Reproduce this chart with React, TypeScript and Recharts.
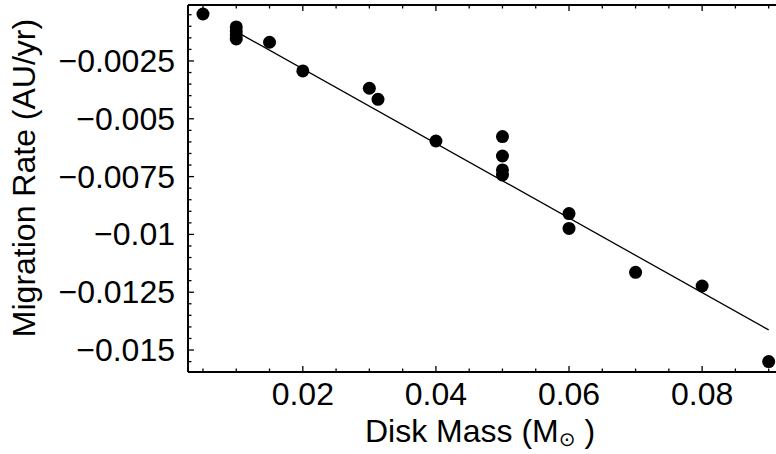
import React from 'react';
import { ScatterChart, Scatter, XAxis, YAxis } from 'recharts';

const W = 776;
const H = 454;
const FONT = '"Liberation Sans", Arial, Helvetica, sans-serif';

// disk mass (M_sun) vs migration rate (AU/yr)
const diskMass = [0.005, 0.01, 0.01, 0.01, 0.01, 0.015, 0.02, 0.03, 0.0313, 0.04, 0.05, 0.05, 0.05, 0.05, 0.06, 0.06, 0.07, 0.08, 0.09];
const migrationRate = [-0.00047, -0.00103, -0.0012, -0.00137, -0.00155, -0.00169, -0.00293, -0.00368, -0.00416, -0.00596, -0.00577, -0.00661, -0.00721, -0.00743, -0.0091, -0.00974, -0.01164, -0.01223, -0.0155];

// linear fit, end points
const fitMass = [0.01, 0.09];
const fitRate = [-0.00123, -0.01413];

const xMajor = [0.02, 0.04, 0.06, 0.08];
const xMajorLabels = ['0.02', '0.04', '0.06', '0.08'];
const xMinor = [0.005, 0.01, 0.015, 0.025, 0.03, 0.035, 0.045, 0.05, 0.055, 0.065, 0.07, 0.075, 0.085, 0.09];

const yMajor = [-0.0025, -0.005, -0.0075, -0.01, -0.0125, -0.015];
const yMajorLabels = ['\u22120.0025', '\u22120.005', '\u22120.0075', '\u22120.01', '\u22120.0125', '\u22120.015'];
const yMinor = [
  -0.0005, -0.001, -0.0015, -0.002, -0.003, -0.0035, -0.004, -0.0045,
  -0.0055, -0.006, -0.0065, -0.007, -0.008, -0.0085, -0.009, -0.0095,
  -0.0105, -0.011, -0.0115, -0.012, -0.013, -0.0135, -0.014, -0.0145, -0.0155,
];

const xDomain = [0.00275, 0.0911];
const yDomain = [-0.01595, -0.00008];

const points = diskMass.map((x, i) => ({ x, y: migrationRate[i] }));
const fitLine = fitMass.map((x, i) => ({ x, y: fitRate[i] }));

const majorIndex = (v: number, majors: number[]) => majors.findIndex((m) => Math.abs(m - v) < 1e-9);

const BottomTick = (props: any) => {
  const { x, y, payload } = props;
  const i = majorIndex(payload.value, xMajor);
  const len = i >= 0 ? 6 : 3.5;
  return (
    <g>
      <line x1={x} y1={y} x2={x} y2={y - len} stroke="#000" strokeWidth={1.3} />
      {i >= 0 && (
        <text x={x} y={y + 33} textAnchor="middle" fontSize={32} fontFamily={FONT} fill="#000">
          {xMajorLabels[i]}
        </text>
      )}
    </g>
  );
};

const TopTick = (props: any) => {
  const { x, y, payload } = props;
  const len = majorIndex(payload.value, xMajor) >= 0 ? 6 : 3.5;
  return <line x1={x} y1={y} x2={x} y2={y + len} stroke="#000" strokeWidth={1.3} />;
};

const LeftTick = (props: any) => {
  const { x, y, payload } = props;
  const i = majorIndex(payload.value, yMajor);
  const len = i >= 0 ? 6 : 3.5;
  return (
    <g>
      <line x1={x} y1={y} x2={x + len} y2={y} stroke="#000" strokeWidth={1.3} />
      {i >= 0 && (
        <text x={x - 13} y={y} textAnchor="end" dominantBaseline="central" fontSize={32} fontFamily={FONT} fill="#000">
          {yMajorLabels[i]}
        </text>
      )}
    </g>
  );
};

const Dot = (props: any) => <circle cx={props.cx} cy={props.cy} r={6.5} fill="#000" />;
const NoDot = () => <g />;

export default function App() {
  return (
    <div style={{ position: 'absolute', left: 0, top: 0, width: W, height: H, background: '#fff' }}>
      <ScatterChart width={W} height={H} margin={{ top: 0, right: 0, bottom: 0, left: 0 }}>
        <XAxis
          type="number"
          dataKey="x"
          domain={xDomain}
          allowDataOverflow
          ticks={[...xMinor, ...xMajor].sort((a, b) => a - b)}
          interval={0}
          height={82}
          tickSize={0}
          tickMargin={0}
          tickLine={false}
          tick={<BottomTick />}
          axisLine={{ stroke: '#000', strokeWidth: 2 }}
          label={{
            content: () => (
              <text x={480} y={442} textAnchor="middle" fontSize={32} fontFamily={FONT} fill="#000">
                Disk Mass (M
                <tspan dy={4} fontSize={20} fontFamily="DejaVu Sans">{'\u2299'}</tspan>
                <tspan dy={-4}> )</tspan>
              </text>
            ),
          }}
        />
        <XAxis
          xAxisId="top"
          orientation="top"
          type="number"
          dataKey="x"
          domain={xDomain}
          allowDataOverflow
          ticks={[...xMinor, ...xMajor].sort((a, b) => a - b)}
          interval={0}
          height={5}
          tickSize={0}
          tickMargin={0}
          tickLine={false}
          tick={<TopTick />}
          axisLine={{ stroke: '#000', strokeWidth: 2 }}
        />
        <YAxis
          type="number"
          dataKey="y"
          domain={yDomain}
          allowDataOverflow
          ticks={[...yMinor, ...yMajor].sort((a, b) => a - b)}
          interval={0}
          width={188}
          tickSize={0}
          tickMargin={0}
          tickLine={false}
          tick={<LeftTick />}
          axisLine={{ stroke: '#000', strokeWidth: 2 }}
          label={{
            content: () => (
              <text
                transform="translate(24, 178) rotate(-90)"
                textAnchor="middle"
                dominantBaseline="central"
                fontSize={32}
                fontFamily={FONT}
                fill="#000"
              >
                Migration Rate (AU/yr)
              </text>
            ),
          }}
        />
        <Scatter data={fitLine} line={{ stroke: '#000', strokeWidth: 1.3 }} shape={<NoDot />} isAnimationActive={false} />
        <Scatter data={points} shape={<Dot />} isAnimationActive={false} />
      </ScatterChart>
    </div>
  );
}
